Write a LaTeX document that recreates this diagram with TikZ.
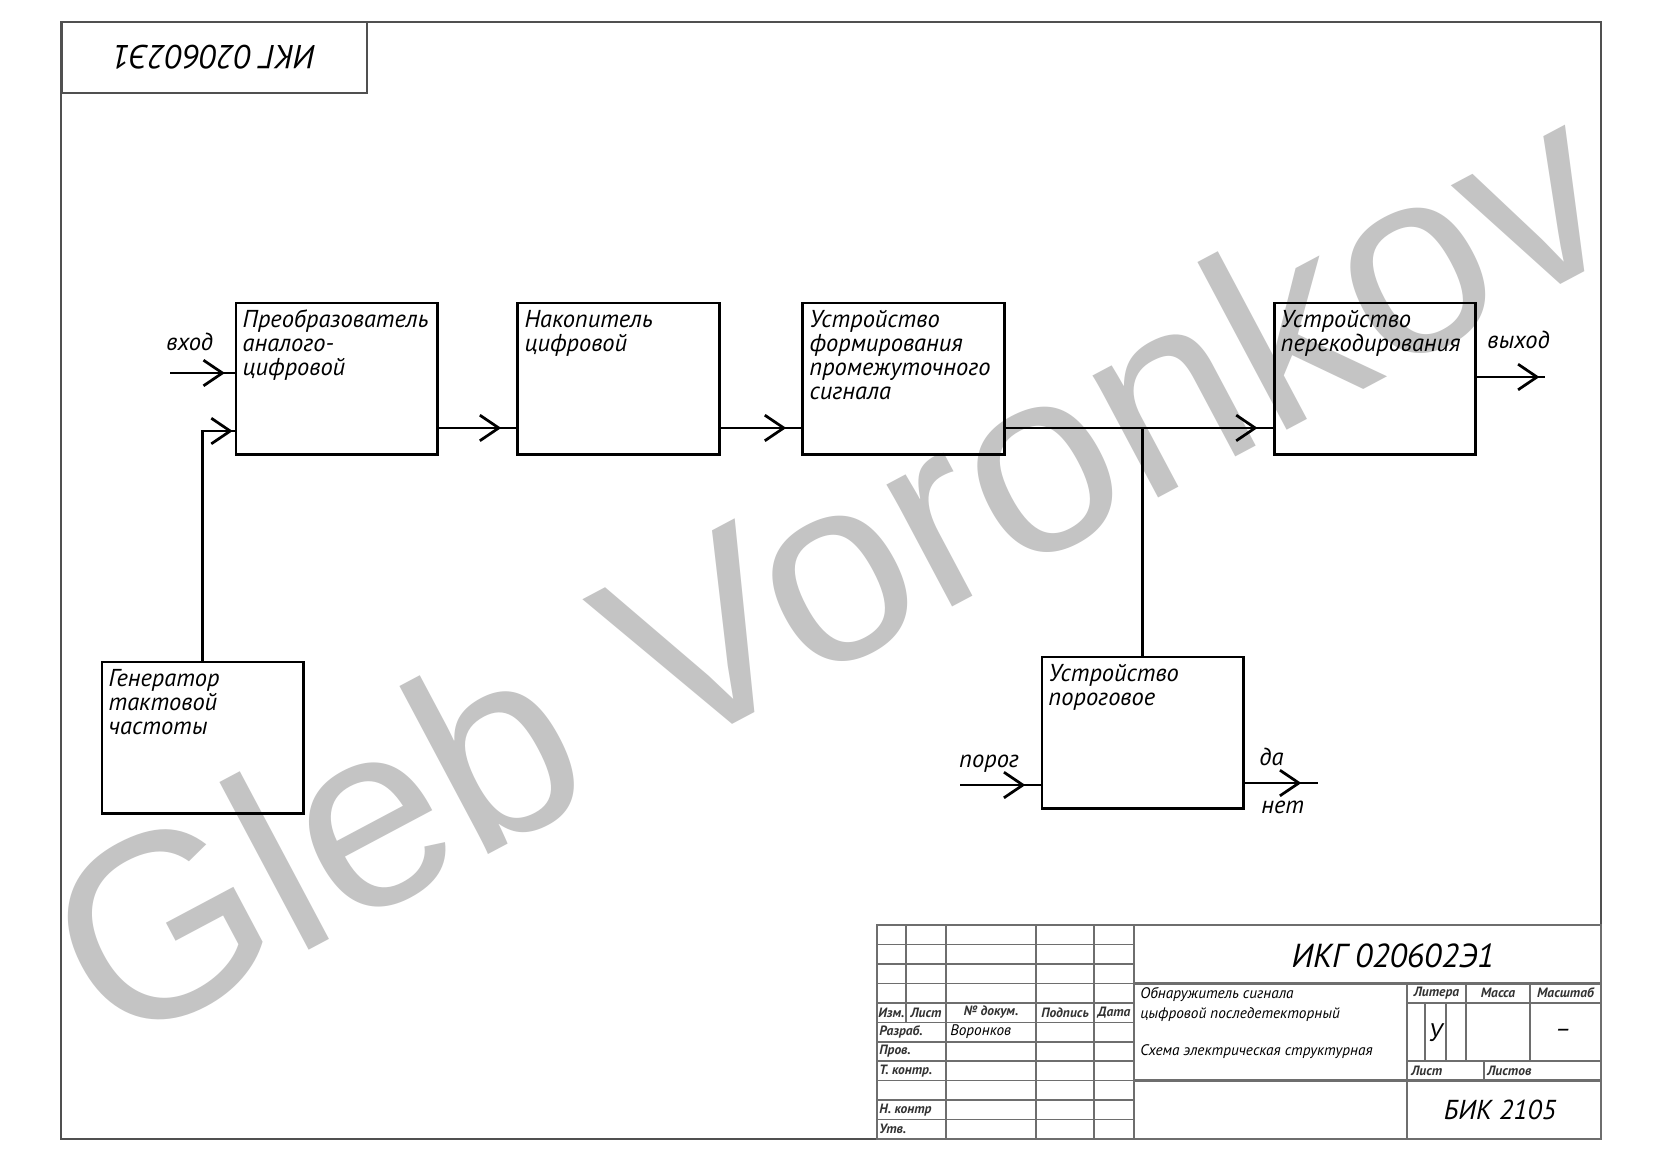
\documentclass[tikz,border=0pt]{standalone}
\usepackage{fontspec}
\setmainfont{PT Sans}
\newfontfamily\wmfont{Liberation Sans}
\usepackage{tikz}
\usetikzlibrary{positioning,arrows.meta,decorations.markings}
\definecolor{frameclr}{HTML}{505050}
\definecolor{gridclr}{HTML}{6E6E6E}
\definecolor{wmgray}{HTML}{C4C4C4}
\newcommand{\blokfont}{\fontsize{12.5}{12.25}\selectfont\itshape}
\newcommand{\tbfont}{\fontsize{7.8}{9}\selectfont\itshape}
\newcommand{\tbheadfont}{\fontsize{6.9}{7}\selectfont\itshape\bfseries}

\begin{document}
\begin{tikzpicture}[x=0.17967mm, y=-0.17967mm,
  blok/.style={
    rectangle, draw, line width=1.5pt, anchor=north west, outer sep=0pt,
    text width=33.8mm, align=left, inner xsep=1.2mm, inner ysep=0pt,
    text height=4.4mm, text depth=22.9mm, font=\blokfont
  },
  wire/.style={line width=1.4pt},
  arr/.style={wire, postaction={decorate}, decoration={markings,
    mark=at position -#1 with {\arrow{Straight Barb[length=3.4mm,width=4.6mm]}}}},
  arr/.default=3mm,
  lbl/.style={font=\blokfont, inner sep=0pt, anchor=base west},
  frame/.style={draw=frameclr, line width=1.2pt},
  stamp/.style={frame, minimum width=54.8mm, minimum height=12.8mm,
    font=\fontsize{17}{17}\selectfont\itshape},
  grid/.style={gridclr, line width=0.8pt},
  gridb/.style={gridclr, line width=1.2pt},
  tbtext/.style={font=\tbfont, inner sep=0pt, anchor=base west},
  tbhead/.style={font=\tbheadfont, text=black!80, inner sep=0pt},
  wm/.style={font=\wmfont\fontsize{134}{134}\selectfont, text=wmgray, inner sep=0pt}
]
\useasboundingbox (0,0) rectangle (1653,1169);
\fill[white] (0,0) rectangle (1653,1169);

% watermark
\node[wm, rotate=28, anchor=base west] (wmark) at (113,1054) {Gleb Voronkov};

% frame
\draw[frame] (61,22) rectangle (1601,1139);
\node[stamp, rotate=180] (stamp) at (214.5,57.5) {ИКГ 020602Э1};

% blocks
\node[blok] (adc) at (236,303) {Преобразователь\\аналого-\\цифровой};
\node[blok, right=14.45mm of adc] (acc) {Накопитель\\цифровой};
\node[blok, right=15.0mm of acc] (form) {Устройство\\формирования\\промежуточного\\сигнала};
\node[blok, right=48.5mm of form] (recode) {Устройство\\перекодирования};
\node[blok] (gen) at (102,662) {Генератор\\тактовой\\частоты};
\node[blok] (thr) at (1042,657) {Устройство\\пороговое};

% connectors
\coordinate (vh) at (170,373);
\coordinate (vyh) at (1545,377);
\coordinate (por) at (960,785);
\coordinate (dn) at (1318,783);
\coordinate (tap) at ([yshift=4.85mm]form.south east);

\draw[arr=2mm] (vh) -- (vh -| adc.west);
\draw[arr=0.6mm] (gen.north) |- ([yshift=4.3mm]adc.south west);
\foreach \a/\b in {adc/acc, acc/form, form/recode}
  \draw[arr] ([yshift=4.85mm]\a.south east) -- ([yshift=4.85mm]\b.south west);
\draw[wire] (tap -| thr.north) -- (thr.north);
\draw[arr=1mm] (vyh -| recode.east) -- (vyh);
\draw[arr] (por) -- (por -| thr.west);
\draw[arr] (dn -| thr.east) -- (dn);

% labels
\node[lbl] (lvh) at (166,350) {вход};
\node[lbl] (lvyh) at (1487,348) {выход};
\node[lbl] (lpor) at (959,767) {порог};
\node[lbl] (lda) at (1259,765) {да};
\node[lbl] (lnet) at (1261,813) {нет};

% title block
\foreach \y in {944.5,963.9,983.4,1022.3,1041.7,1061.2,1080.6,1100.1,1119.5}
  \draw[grid] (877,\y) -- (1134,\y);
\draw[gridb] (877,1002.8) -- (1134,1002.8);
\draw[gridb] (877,925) rectangle (1601,1139);
\draw[grid] (906,925) -- (906,1022.3);
\foreach \x in {946,1036,1094}
  \draw[grid] (\x,925) -- (\x,1139);
\draw[gridb] (1134,925) -- (1134,1139);
\draw[gridb] (1134,983.4) -- (1601,983.4);
\draw[gridb] (1134,1080.6) -- (1601,1080.6);
\draw[gridb] (1407,983.4) -- (1407,1139);
\draw[grid] (1407,1002.8) -- (1601,1002.8);
\draw[grid] (1407,1061.2) -- (1601,1061.2);
\draw[grid] (1466,983.4) -- (1466,1061.2);
\draw[grid] (1530,983.4) -- (1530,1061.2);
\draw[grid] (1425,1002.8) -- (1425,1061.2);
\draw[grid] (1446,1002.8) -- (1446,1061.2);
\draw[grid] (1484,1061.2) -- (1484,1080.6);

\foreach \x/\t in {891.5/Изм., 926/Лист, 991/№ докум., 1065/Подпись, 1114/Дата}
  \node[tbhead] at (\x,1012.5) {\t};
\foreach \y/\t in {1032/Разраб., 1051.5/Пров., 1071/Т. контр., 1110/Н. контр, 1129/Утв.}
  \node[tbhead, anchor=west] at (879,\y) {\t};
\node[tbtext, anchor=west] (razrab) at (950,1032) {Воронков};

\node[font=\fontsize{17}{17}\selectfont\itshape] (kod) at (1393,956) {ИКГ 020602Э1};
\node[tbtext] (name1) at (1140,998) {Обнаружитель сигнала};
\node[tbtext] (name2) at (1140,1018) {цыфровой последетекторный};
\node[tbtext] (name3) at (1140,1055) {Схема электрическая структурная};

\node[tbhead] (litera) at (1436.5,993) {Литера};
\node[tbhead] (massa) at (1498,993) {Масса};
\node[tbhead] (masshtab) at (1565.5,993) {Масштаб};
\node[tbhead, anchor=west] (list) at (1411,1071) {Лист};
\node[tbhead, anchor=west] (listov) at (1487,1071) {Листов};
\node[font=\fontsize{13}{13}\selectfont\itshape] (lit) at (1435,1033) {У};
\node[font=\fontsize{13}{13}\selectfont\itshape] (mash) at (1563,1033) {–};
\node[font=\fontsize{14}{14}\selectfont\itshape] (org) at (1500,1110) {БИК 2105};
\end{tikzpicture}
\end{document}
